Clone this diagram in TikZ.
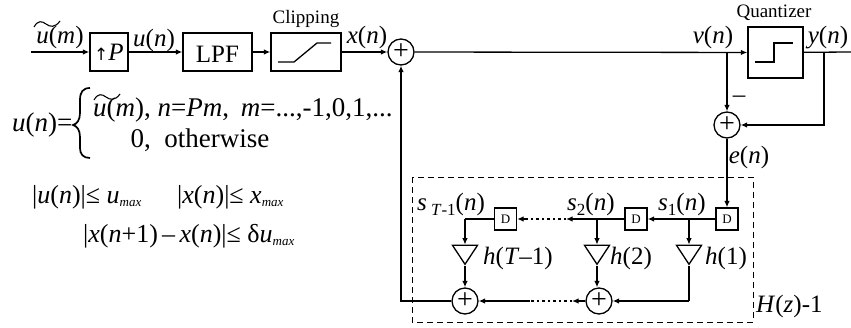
\documentclass[tikz,border=0pt]{standalone}
\usepackage{fontspec}
\setmainfont{Liberation Serif}
\newfontfamily\dejafont{DejaVu Sans}
\usetikzlibrary{arrows.meta,shapes.geometric,calc}
\newcommand{\iv}[1]{\textit{#1}}
\newcommand{\fnc}[2]{\iv{#1}(\iv{#2})}
\newcommand{\mx}{\raisebox{-3pt}{\fontsize{13}{13}\selectfont\iv{max}}}
\tikzset{
  x=1pt,y=-1pt,
  line/.style={line width=1.3pt},
  flow/.style={line,-{Latex[length=6.5pt,width=5.5pt]}},
  dotline/.style={line width=1.4pt,dash pattern=on 2.5pt off 3pt},
  blockbox/.style={draw,line width=1.3pt,inner sep=0pt,minimum height=38pt},
  delaybox/.style={draw,line width=1.3pt,inner sep=0pt,minimum width=22pt,minimum height=22pt,font=\fontsize{13}{13}\selectfont},
  sumnode/.style={draw,circle,line width=1.3pt,inner sep=0pt,minimum size=26pt,font=\fontsize{28}{28}\selectfont},
  gain/.style={draw,isosceles triangle,isosceles triangle stretches,shape border rotate=-90,line width=1.3pt,inner sep=0pt,minimum height=19pt,minimum width=25pt,anchor=apex},
  lab/.style={anchor=base,inner sep=0pt,font=\fontsize{25}{25}\selectfont},
  small/.style={anchor=base,inner sep=0pt,font=\fontsize{19}{19}\selectfont},
  eqn/.style={anchor=base,inner sep=0pt,font=\fontsize{27}{27}\selectfont},
  eqnb/.style={anchor=base west,inner sep=0pt,font=\fontsize{26}{26}\selectfont},
}
\begin{document}
\begin{tikzpicture}
\useasboundingbox (0,0) rectangle (851,327);
% blocks
\node[blockbox,minimum width=38pt] (up) at (109,52) {};
\node[blockbox,minimum width=69pt] (lpf) at (217.5,52) {};
\node[blockbox,minimum width=70pt] (clip) at (306,52) {};
\node[draw,line width=1.3pt,inner sep=0pt,minimum width=55pt,minimum height=51pt] (quant) at (775.5,52.5) {};
\node[sumnode] (s1) at (401,52) {+};
\node[sumnode] (s2) at (727,125) {+};
\node[sumnode] (s3) at (599,301) {+};
\node[sumnode] (s4) at (465,301) {+};
\node[delaybox] (d1) at (727,219) {D};
\node[delaybox] (d2) at (636,219) {D};
\node[delaybox] (d3) at (505.5,219) {D};
\node[gain] (g1) at (689,266) {};
\node[gain] (g2) at (597,266) {};
\node[gain] (g3) at (465,266) {};
% free ends and branch points
\coordinate (in) at (31,52);
\coordinate (out) at (851,52);
\coordinate (vb) at (727,52);
\coordinate (yb) at (824,52);
\coordinate (b1) at (689,219);
\coordinate (b2) at (597,219);
\coordinate (b3) at (465,219);
\coordinate (c1) at (689,301);
\coordinate (dt1) at (566,219);
\coordinate (dt2) at (525,219);
\coordinate (dt3) at (572,301);
\coordinate (dt4) at (530,301);
% inner curves
\draw[line width=1.3pt] (278,62) -- (294,62) -- (317,43) -- (331,43);
\draw[line width=1.3pt] (755,62) -- (774,62) -- (774,43) -- (793,43);
% connectors
\draw[flow] (in) -- (up);
\draw[flow] (up) -- (lpf);
\draw[flow] (lpf) -- (clip);
\draw[flow] (clip) -- (s1);
\draw[flow] (s1) -- (quant);
\draw[line] (quant) -- (out);
\draw[flow] (vb) -- (s2);
\draw[flow] (yb) |- (s2);
\draw[flow] (s2) -- (d1);
\draw[flow] (d1) -- (d2);
\draw[flow] (b1) -- ($(g1.left corner)!0.5!(g1.right corner)$);
\draw[line] (g1.apex) |- (c1);
\draw[flow] (c1) -- (s3);
\draw[flow] (d2) -- (dt1);
\draw[dotline] (dt1) -- (dt2);
\draw[flow] (dt2) -- (d3);
\draw[flow] (b2) -- ($(g2.left corner)!0.5!(g2.right corner)$);
\draw[flow] (g2.apex) -- (g2.apex |- s3.north);
\draw[line] (d3) -- (b3);
\draw[flow] (b3) -- ($(g3.left corner)!0.5!(g3.right corner)$);
\draw[flow] (g3.apex) -- (s4);
\draw[flow] (s3) -- (dt3);
\draw[dotline] (dt3) -- (dt4);
\draw[flow] (dt4) -- (s4);
\draw[flow] (s4) -| (s1);
% dashed frame
\draw[line width=1pt,dash pattern=on 6pt off 4pt] (412,177) rectangle (753,322);
% tildes
\draw[line width=1.1pt] (34,27) .. controls (38,20) and (42,21) .. (46,24) .. controls (50,27) and (55,28) .. (60,21);
\draw[line width=1.1pt] (94,100) .. controls (98,93) and (102,94) .. (106,97) .. controls (110,100) and (115,101) .. (120,94);
% brace
\draw[line width=1.7pt] (90,88) .. controls (83,88) and (80,92) .. (80,100) -- (80,113) .. controls (80,120) and (77,124) .. (73,125) .. controls (77,126) and (80,130) .. (80,137) -- (80,148) .. controls (80,154) and (83,158) .. (90,158);
% labels
\node[lab] (t1) at (60,43) {\fnc{u}{m}};
\node[inner sep=0pt,anchor=base,font=\fontsize{25}{25}\selectfont] (t2) at (109,60) {{\dejafont\fontsize{17}{17}\selectfont ↑}\iv{P}};
\node[lab] (t3) at (154,46) {\fnc{u}{n}};
\node[lab] (t4) at (217.5,62) {LPF};
\node[small] (t5) at (306,23) {Clipping};
\node[lab] (t6) at (367,43) {\fnc{x}{n}};
\node[small] (t7) at (774,17) {Quantizer};
\node[lab] (t8) at (713,43) {\fnc{v}{n}};
\node[lab] (t9) at (828,43) {\fnc{y}{n}};
\node[lab] (t10) at (739,102) {–};
\node[lab] (t11) at (749,163) {\fnc{e}{n}};
\node[eqn,anchor=base west] (e1) at (12,131) {\fnc{u}{n}=};
\node[eqn,anchor=base west] (e2) at (93,116) {\fnc{u}{m}, \iv{n}=\iv{Pm},\hspace{5pt} \iv{m}=...,-1,0,1,...};
\node[eqn] (e3) at (200,147) {0,\ \ otherwise};
\node[eqnb] (e4) at (32,203) {|\fnc{u}{n}|≤ \iv{u}\mx};
\node[eqnb] (e5) at (177,203) {|\fnc{x}{n}|≤ \iv{x}\mx};
\node[eqnb] (e6) at (83,242) {|\iv{x}(\iv{n}+1)\,–\,\fnc{x}{n}|≤ δ\iv{u}\mx};
\node[lab,anchor=base west] (l1) at (417,210) {\iv{s}\,\raisebox{-5pt}{\fontsize{17}{17}\selectfont\iv{T}-1}(\iv{n})};
\node[lab,anchor=base west] (l2) at (567,210) {\iv{s}\raisebox{-5pt}{\fontsize{17}{17}\selectfont 2}(\iv{n})};
\node[lab,anchor=base west] (l3) at (658,210) {\iv{s}\raisebox{-5pt}{\fontsize{17}{17}\selectfont 1}(\iv{n})};
\node[lab,anchor=base west] (l4) at (483,264) {\iv{h}(\iv{T}–1)};
\node[lab,anchor=base west] (l5) at (610,264) {\iv{h}(2)};
\node[lab,anchor=base west] (l6) at (705,264) {\iv{h}(1)};
\node[lab,anchor=base west] (l7) at (756,312) {\iv{H}(\iv{z})-1};
\end{tikzpicture}
\end{document}
